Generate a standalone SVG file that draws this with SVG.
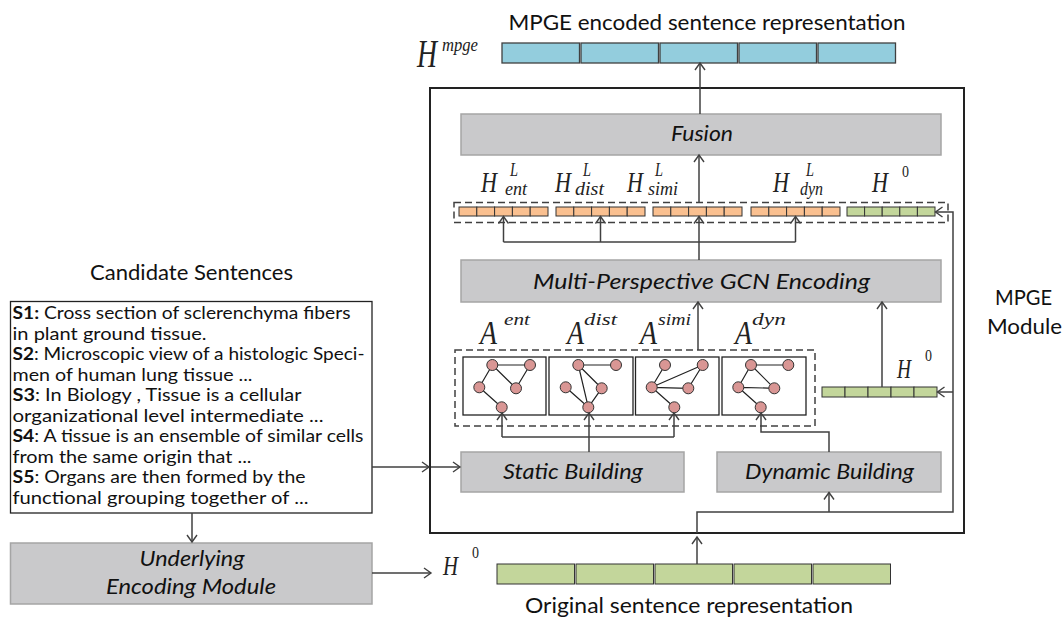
<svg xmlns="http://www.w3.org/2000/svg" width="1064" height="619" viewBox="0 0 1064 619">
<style>
.lbl{font-family:Lato,"Open Sans","Liberation Sans",sans-serif;fill:#111}
.it{font-family:Lato,"Open Sans","Liberation Sans",sans-serif;font-style:italic;fill:#111;font-size:21px}
.m{font-family:"Liberation Serif","DejaVu Serif",serif;font-style:italic;fill:#222}
.mn{font-family:"Liberation Serif","DejaVu Serif",serif;fill:#222}
.gbox{fill:#C9C9CB;stroke:#A5A5A5;stroke-width:1.5}
.blue{fill:#93CDDD;stroke:#404040;stroke-width:1.3}
.org{fill:#FAC090;stroke:#333;stroke-width:1}
.grn{fill:#C3D69B;stroke:#333;stroke-width:1}
.dash{fill:none;stroke:#404040;stroke-width:1.5;stroke-dasharray:7,4}
.gb{fill:#fff;stroke:#222;stroke-width:1.3}
.c{fill:#D99694;stroke:#333;stroke-width:1}
.e{stroke:#222;stroke-width:1.2;fill:none}
.ln{fill:none;stroke:#404040;stroke-width:1.5}
.ar{fill:none;stroke:#404040;stroke-width:1.5;marker-end:url(#arr)}
.ct{font-family:Lato,"Open Sans","Liberation Sans",sans-serif;font-size:16.5px;fill:#111}
</style>
<defs>
<marker id="arr" markerUnits="userSpaceOnUse" markerWidth="12" markerHeight="12" refX="9" refY="6" orient="auto">
<path d="M2,1 L9,6 L2,11" fill="none" stroke="#404040" stroke-width="1.4"/>
</marker>
</defs>
<rect width="1064" height="619" fill="#fff"/>

<!-- labels -->
<text class="lbl" x="707" y="30" font-size="21" text-anchor="middle" textLength="397" lengthAdjust="spacingAndGlyphs">MPGE encoded sentence representation</text>
<text class="lbl" x="191.5" y="280" font-size="21" text-anchor="middle" textLength="203" lengthAdjust="spacingAndGlyphs">Candidate Sentences</text>
<text class="lbl" x="689" y="613" font-size="21" text-anchor="middle" textLength="328" lengthAdjust="spacingAndGlyphs">Original sentence representation</text>
<text class="lbl" x="1023.5" y="305" font-size="21" text-anchor="middle" textLength="57" lengthAdjust="spacingAndGlyphs">MPGE</text>
<text class="lbl" x="1024.5" y="334" font-size="21" text-anchor="middle" textLength="75" lengthAdjust="spacingAndGlyphs">Module</text>

<!-- main module box -->
<g id="mpge-module">
<rect x="430" y="88" width="534" height="445" fill="none" stroke="#222" stroke-width="2"/>
</g>

<!-- top H^mpge -->
<g id="h-mpge">
<text class="m" x="417" y="67" font-size="40" textLength="20" lengthAdjust="spacingAndGlyphs">H</text>
<text class="m" x="442" y="51" font-size="18" textLength="36" lengthAdjust="spacingAndGlyphs">mpge</text>
<rect class="blue" x="502" y="43" width="77.5" height="20"/>
<rect class="blue" x="581" y="43" width="77.5" height="20"/>
<rect class="blue" x="660" y="43" width="77.5" height="20"/>
<rect class="blue" x="739" y="43" width="77.5" height="20"/>
<rect class="blue" x="818" y="43" width="77.5" height="20"/>
</g>

<g id="fusion">
<rect class="gbox" x="461" y="114" width="480" height="41"/>
<text class="it" x="702" y="141" text-anchor="middle" textLength="62" lengthAdjust="spacingAndGlyphs">Fusion</text>
</g>

<!-- H^L labels and vectors -->
<g id="h-layer">
<text class="m" x="481" y="192" font-size="29" textLength="16" lengthAdjust="spacingAndGlyphs">H</text>
<text class="m" x="510" y="176" font-size="19" textLength="8" lengthAdjust="spacingAndGlyphs">L</text>
<text class="m" x="505" y="195" font-size="19" textLength="22" lengthAdjust="spacingAndGlyphs">ent</text>
<text class="m" x="555" y="192" font-size="29" textLength="16" lengthAdjust="spacingAndGlyphs">H</text>
<text class="m" x="583" y="176" font-size="19" textLength="8" lengthAdjust="spacingAndGlyphs">L</text>
<text class="m" x="575" y="195" font-size="19" textLength="29" lengthAdjust="spacingAndGlyphs">dist</text>
<text class="m" x="627" y="192" font-size="29" textLength="16" lengthAdjust="spacingAndGlyphs">H</text>
<text class="m" x="655" y="176" font-size="19" textLength="8" lengthAdjust="spacingAndGlyphs">L</text>
<text class="m" x="648" y="195" font-size="19" textLength="30" lengthAdjust="spacingAndGlyphs">simi</text>
<text class="m" x="773" y="192" font-size="29" textLength="16" lengthAdjust="spacingAndGlyphs">H</text>
<text class="m" x="806" y="176" font-size="19" textLength="8" lengthAdjust="spacingAndGlyphs">L</text>
<text class="m" x="800" y="195" font-size="19" textLength="23" lengthAdjust="spacingAndGlyphs">dyn</text>
<text class="m" x="872" y="192" font-size="29" textLength="16" lengthAdjust="spacingAndGlyphs">H</text>
<text class="mn" x="902" y="177" font-size="17" textLength="7" lengthAdjust="spacingAndGlyphs">0</text>
<rect class="dash" x="454" y="202.5" width="494" height="20"/>
<g id="vec-ent">
<rect class="org" x="459" y="207" width="17.8" height="9"/><rect class="org" x="476.8" y="207" width="17.8" height="9"/><rect class="org" x="494.6" y="207" width="17.8" height="9"/><rect class="org" x="512.4" y="207" width="17.8" height="9"/><rect class="org" x="530.2" y="207" width="17.8" height="9"/>
</g>
<g id="vec-dist">
<rect class="org" x="556" y="207" width="17.8" height="9"/><rect class="org" x="573.8" y="207" width="17.8" height="9"/><rect class="org" x="591.6" y="207" width="17.8" height="9"/><rect class="org" x="609.4" y="207" width="17.8" height="9"/><rect class="org" x="627.2" y="207" width="17.8" height="9"/>
</g>
<g id="vec-simi">
<rect class="org" x="653" y="207" width="17.8" height="9"/><rect class="org" x="670.8" y="207" width="17.8" height="9"/><rect class="org" x="688.6" y="207" width="17.8" height="9"/><rect class="org" x="706.4" y="207" width="17.8" height="9"/><rect class="org" x="724.2" y="207" width="17.8" height="9"/>
</g>
<g id="vec-dyn">
<rect class="org" x="751" y="207" width="17.8" height="9"/><rect class="org" x="768.8" y="207" width="17.8" height="9"/><rect class="org" x="786.6" y="207" width="17.8" height="9"/><rect class="org" x="804.4" y="207" width="17.8" height="9"/><rect class="org" x="822.2" y="207" width="17.8" height="9"/>
</g>
<g id="vec-h0">
<rect class="grn" x="847" y="207" width="17.6" height="9"/><rect class="grn" x="864.6" y="207" width="17.6" height="9"/><rect class="grn" x="882.2" y="207" width="17.6" height="9"/><rect class="grn" x="899.8" y="207" width="17.6" height="9"/><rect class="grn" x="917.4" y="207" width="17.6" height="9"/>
</g>
</g>

<g id="gcn">
<rect class="gbox" x="461" y="260" width="480" height="42"/>
<text class="it" x="701.5" y="289" text-anchor="middle" textLength="337" lengthAdjust="spacingAndGlyphs">Multi-Perspective GCN Encoding</text>
</g>

<!-- graphs -->
<g id="graphs">
<text class="m" x="480" y="344" font-size="33" textLength="17" lengthAdjust="spacingAndGlyphs">A</text>
<text class="m" x="504" y="325" font-size="17" textLength="26" lengthAdjust="spacingAndGlyphs">ent</text>
<text class="m" x="567" y="344" font-size="33" textLength="17" lengthAdjust="spacingAndGlyphs">A</text>
<text class="m" x="584" y="325" font-size="17" textLength="33" lengthAdjust="spacingAndGlyphs">dist</text>
<text class="m" x="640" y="344" font-size="33" textLength="17" lengthAdjust="spacingAndGlyphs">A</text>
<text class="m" x="658" y="325" font-size="17" textLength="33" lengthAdjust="spacingAndGlyphs">simi</text>
<text class="m" x="735" y="344" font-size="33" textLength="17" lengthAdjust="spacingAndGlyphs">A</text>
<text class="m" x="752" y="325" font-size="17" textLength="34" lengthAdjust="spacingAndGlyphs">dyn</text>
<rect class="dash" x="455" y="350" width="360" height="76"/>
<g id="graph-ent">
<rect class="gb" x="463" y="357" width="83" height="58"/>
<path class="e" d="M492.3,365 L530,365 M492.3,365 L479.3,387.3 M492.3,365 L516,388.3 M530,365 L516,388.3 M479.3,387.3 L501.7,407.3"/>
<circle class="c" cx="492.3" cy="365" r="5.5"/><circle class="c" cx="530" cy="365" r="5.5"/><circle class="c" cx="479.3" cy="387.3" r="5.5"/><circle class="c" cx="516" cy="388.3" r="5.5"/><circle class="c" cx="501.7" cy="407.3" r="5.5"/>
</g>
<g id="graph-dist">
<rect class="gb" x="549" y="357" width="84" height="58"/>
<path class="e" d="M578.3,365 L616,365 M578.3,365 L601.7,388.3 M578.3,365 L588.3,407.3 M601.7,388.3 L588.3,407.3 M565.7,387.3 L588.3,407.3"/>
<circle class="c" cx="578.3" cy="365" r="5.5"/><circle class="c" cx="616" cy="365" r="5.5"/><circle class="c" cx="565.7" cy="387.3" r="5.5"/><circle class="c" cx="601.7" cy="388.3" r="5.5"/><circle class="c" cx="588.3" cy="407.3" r="5.5"/>
</g>
<g id="graph-simi">
<rect class="gb" x="635.5" y="357" width="83.5" height="58"/>
<path class="e" d="M665,365 L651.7,387.3 M651.7,387.3 L702.7,365 M651.7,387.3 L688.3,388.3 M702.7,365 L688.3,388.3 M651.7,387.3 L674.3,407.3"/>
<circle class="c" cx="665" cy="365" r="5.5"/><circle class="c" cx="702.7" cy="365" r="5.5"/><circle class="c" cx="651.7" cy="387.3" r="5.5"/><circle class="c" cx="688.3" cy="388.3" r="5.5"/><circle class="c" cx="674.3" cy="407.3" r="5.5"/>
</g>
<g id="graph-dyn">
<rect class="gb" x="722" y="357" width="84" height="58"/>
<path class="e" d="M751,365 L788.3,365 M751,365 L738.3,387.3 M751,365 L774.3,388.3 M738.3,387.3 L774.3,388.3 M738.3,387.3 L760.7,407.3"/>
<circle class="c" cx="751" cy="365" r="5.5"/><circle class="c" cx="788.3" cy="365" r="5.5"/><circle class="c" cx="738.3" cy="387.3" r="5.5"/><circle class="c" cx="774.3" cy="388.3" r="5.5"/><circle class="c" cx="760.7" cy="407.3" r="5.5"/>
</g>
</g>

<g id="h0-inner">
<text class="m" x="897" y="378" font-size="27" textLength="14" lengthAdjust="spacingAndGlyphs">H</text>
<text class="mn" x="925" y="361" font-size="16" textLength="7" lengthAdjust="spacingAndGlyphs">0</text>
<rect class="grn" x="822" y="387" width="23" height="10"/><rect class="grn" x="845" y="387" width="23" height="10"/><rect class="grn" x="868" y="387" width="23" height="10"/><rect class="grn" x="891" y="387" width="23" height="10"/><rect class="grn" x="914" y="387" width="23" height="10"/>
</g>

<g id="static-building">
<rect class="gbox" x="461" y="452" width="223" height="40"/>
<text class="it" x="573" y="479" text-anchor="middle" textLength="140" lengthAdjust="spacingAndGlyphs">Static Building</text>
</g>
<g id="dynamic-building">
<rect class="gbox" x="717" y="452" width="224" height="40"/>
<text class="it" x="829.5" y="479" text-anchor="middle" textLength="169" lengthAdjust="spacingAndGlyphs">Dynamic Building</text>
</g>

<g id="candidate-sentences">
<rect x="10.5" y="301.5" width="361.5" height="211.5" fill="#fff" stroke="#222" stroke-width="1.3"/>
<text class="ct" x="12.5" y="319" textLength="338" lengthAdjust="spacingAndGlyphs"><tspan font-weight="bold">S1:</tspan> Cross section of sclerenchyma fibers</text>
<text class="ct" x="12.5" y="339.5" textLength="194" lengthAdjust="spacingAndGlyphs">in plant ground tissue.</text>
<text class="ct" x="12.5" y="360" textLength="352" lengthAdjust="spacingAndGlyphs"><tspan font-weight="bold">S2</tspan>: Microscopic view of a histologic Speci-</text>
<text class="ct" x="12.5" y="380.5" textLength="240" lengthAdjust="spacingAndGlyphs">men of human lung tissue ...</text>
<text class="ct" x="12.5" y="401" textLength="289" lengthAdjust="spacingAndGlyphs"><tspan font-weight="bold">S3</tspan>: In Biology , Tissue is a cellular</text>
<text class="ct" x="12.5" y="421.5" textLength="311" lengthAdjust="spacingAndGlyphs">organizational level intermediate ...</text>
<text class="ct" x="12.5" y="442" textLength="351" lengthAdjust="spacingAndGlyphs"><tspan font-weight="bold">S4</tspan>: A tissue is an ensemble of similar cells</text>
<text class="ct" x="12.5" y="462.5" textLength="239" lengthAdjust="spacingAndGlyphs">from the same origin that ...</text>
<text class="ct" x="12.5" y="483" textLength="293" lengthAdjust="spacingAndGlyphs"><tspan font-weight="bold">S5</tspan>: Organs are then formed by the</text>
<text class="ct" x="12.5" y="503.5" textLength="296" lengthAdjust="spacingAndGlyphs">functional grouping together of ...</text>
</g>

<g id="underlying-encoding">
<rect class="gbox" x="10.5" y="543" width="361.5" height="61"/>
<text class="it" x="192" y="566" text-anchor="middle" textLength="105" lengthAdjust="spacingAndGlyphs">Underlying</text>
<text class="it" x="191" y="594" text-anchor="middle" textLength="170" lengthAdjust="spacingAndGlyphs">Encoding Module</text>
</g>

<g id="h0-original">
<text class="m" x="443" y="575" font-size="27" textLength="15" lengthAdjust="spacingAndGlyphs">H</text>
<text class="mn" x="472" y="558" font-size="16" textLength="7" lengthAdjust="spacingAndGlyphs">0</text>
<rect class="grn" x="497" y="564" width="77.5" height="20"/><rect class="grn" x="576" y="564" width="77.5" height="20"/><rect class="grn" x="655" y="564" width="77.5" height="20"/><rect class="grn" x="734" y="564" width="77.5" height="20"/><rect class="grn" x="813" y="564" width="77.5" height="20"/>
</g>

<g id="connectors">
<path class="ar" d="M700,114 V63"/>
<path class="ar" d="M699,202.5 V155"/>
<path class="ln" d="M503.5,242 H795.5"/>
<path class="ar" d="M699,260 V216.5"/>
<path class="ar" d="M503.5,242 V216.5"/>
<path class="ar" d="M600.5,242 V216.5"/>
<path class="ar" d="M795.5,242 V216.5"/>
<path class="ar" d="M698,350 V302"/>
<path class="ar" d="M882,387 V302"/>
<path class="ar" d="M589,452 V413"/>
<path class="ln" d="M502,437 H674"/>
<path class="ar" d="M502,437 V413"/>
<path class="ar" d="M674,437 V413"/>
<path class="ar" d="M829,452 V432 H761 V413"/>
<path class="ar" d="M372,467 H429"/>
<path class="ar" d="M431,467 H460"/>
<path class="ar" d="M192,513 V542"/>
<path class="ar" d="M372,573 H431"/>
<path class="ar" d="M697,564 V537"/>
<path class="ar" d="M697,533 V512 H953 V212 H935.5"/>
<path class="ar" d="M953,392 H937.5"/>
<path class="ar" d="M829,512 V492.5"/>
</g>
</svg>
